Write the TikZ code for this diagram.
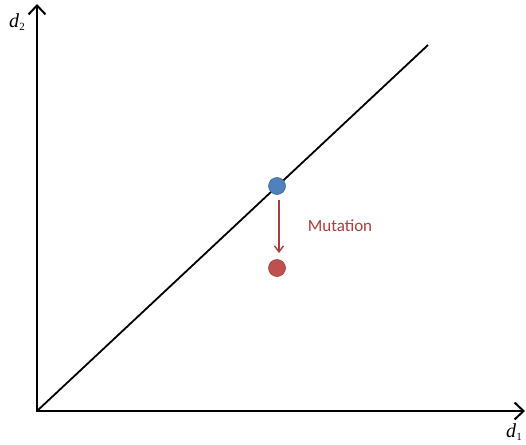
\documentclass[tikz,border=0pt]{standalone}
\usepackage{fontspec}
\setmainfont{Liberation Serif}
\newfontfamily\notefont{Carlito}
\usepackage{tikz}
\usetikzlibrary{arrows.meta, positioning}
\definecolor{dotblue}{RGB}{79,129,189}
\definecolor{dotred}{RGB}{192,80,77}
\definecolor{mutred}{RGB}{168,62,60}
\newcommand{\axisvar}[1]{\textit{d}\raisebox{-3.5pt}{\fontsize{11}{11}\selectfont #1}}
\tikzset{
    axisline/.style={line width=2pt, -{Straight Barb[length=9pt, width=17pt, line width=2pt]}},
    diagline/.style={line width=1.8pt},
    popdot/.style={circle, fill=#1, draw=#1!80!black, line width=0.6pt, minimum size=17pt, inner sep=0pt},
    mutarrow/.style={draw=mutred, line width=1.4pt, -{Straight Barb[length=6pt, width=9pt, line width=1.4pt]}, shorten <=14pt, shorten >=15pt},
    axislabel/.style={font=\fontsize{20}{22}\selectfont, inner sep=0pt},
    mutlabel/.style={font=\notefont\fontsize{17}{20}\selectfont, text=mutred, inner sep=0pt}
}

\begin{document}
\begin{tikzpicture}[x=1pt, y=-1pt]
\useasboundingbox (0,0) rectangle (526,444);

% axes
\coordinate (origin) at (37,411);
\coordinate (xend) at (525,411);
\coordinate (yend) at (37,4);
\coordinate (diagend) at (428,45);

\draw[axisline] (origin) -- (xend);
\draw[axisline] ([yshift=-1pt]origin) -- (yend);
\draw[diagline] (origin) -- (diagend);

\node[axislabel] (dtwo) at (17,22) {\axisvar{2}};
\node[axislabel] (done) at (514,432) {\axisvar{1}};

% parent and mutated point
\node[popdot=dotblue] (parent) at (277,186) {};
\node[popdot=dotred] (child) at (277,268) {};
\draw[mutarrow] ([xshift=2pt]parent.center) -- ([xshift=2pt]child.center);

\node[mutlabel] (mutation) at (340,226) {Mutation};

\end{tikzpicture}
\end{document}
